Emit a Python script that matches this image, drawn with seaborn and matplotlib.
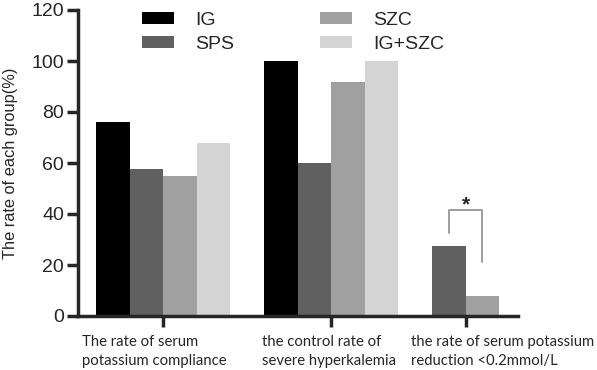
import numpy as np
import pandas as pd
import matplotlib
matplotlib.use("Agg")
import matplotlib.pyplot as plt
import matplotlib.transforms as mtransforms
from matplotlib.patches import Patch
import seaborn as sns

# data
groups = [
    "The rate of serum\npotassium compliance",
    "the control rate of\nsevere hyperkalemia",
    "the rate of serum potassium\nreduction <0.2mmol/L",
]
drugs = ["IG", "SPS", "SZC", "IG+SZC"]
compliance = [76.0, 57.6, 55.0, 68.0]
control = [100.0, 60.0, 91.7, 100.0]
reduction = [np.nan, 27.3, 8.0, np.nan]
colors = ["#000000", "#606060", "#a0a0a0", "#d4d4d4"]

sns.set_style("ticks")
plt.rcParams["font.family"] = ["Liberation Sans", "DejaVu Sans"]

# one slot per bar, one empty slot between groups
rows = []
centers = []
slot = 0
for grp, vals in zip(groups, [compliance, control, reduction]):
    slots = []
    for drug, v in zip(drugs, vals):
        if np.isnan(v):
            continue
        rows.append({"group": grp, "drug": drug, "slot": slot, "value": v})
        slots.append(slot)
        slot += 1
    centers.append(np.mean(slots))
    slot += 1
df = pd.DataFrame(rows)
palette = dict(zip(drugs, colors))

fig = plt.figure(figsize=(5.97, 3.70), dpi=100)
ax = fig.add_axes([78 / 597, 54 / 370, 440 / 597, 306 / 370])

sns.barplot(
    data=df, x="slot", y="value", hue="drug", hue_order=drugs, palette=palette,
    native_scale=True, dodge=False, width=1, saturation=1, linewidth=0,
    legend=False, ax=ax,
)

ax.set_ylim(0, 120)
ax.set_xlim(-1.04, slot - 1 + 0.06)
ax.set_yticks(range(0, 121, 20))
ax.set_ylabel("The rate of each group(%)", fontsize=11.8, labelpad=10)
ax.set_xlabel("")
ax.tick_params(axis="y", labelsize=14, width=2.5, length=8, pad=2)
ax.tick_params(axis="x", width=2.5, length=8, pad=6)
for side in ["left", "bottom"]:
    ax.spines[side].set_linewidth(2.5)
sns.despine(ax=ax)

ax.set_xticks(centers)
ax.set_xticklabels(groups, family=["Lato", "DejaVu Sans"], fontsize=10.7,
                   ha="left", multialignment="left", linespacing=1.38)
for lab, dx in zip(ax.get_xticklabels(), [-81, -69, -55]):
    lab.set_transform(lab.get_transform() +
                      mtransforms.ScaledTranslation(dx / 100, 0, fig.dpi_scale_trans))

# significance bracket between SPS and SZC in the last group
sps = df[(df.group == groups[2]) & (df.drug == "SPS")].iloc[0]
szc = df[(df.group == groups[2]) & (df.drug == "SZC")].iloc[0]
ax.plot([sps.slot, sps.slot, szc.slot, szc.slot], [32.5, 41.5, 41.5, 21],
        color="#8c8c8c", lw=1.2, clip_on=False)
ax.text((sps.slot + szc.slot) / 2, 40, "*", ha="center", va="bottom",
        fontsize=15, fontweight="bold")

handles = [Patch(facecolor=palette[d], edgecolor="none", label=d) for d in drugs]
ax.legend(handles=handles, ncol=2, loc="upper left", frameon=False,
          bbox_to_anchor=(142 / 597, 0.967), bbox_transform=fig.transFigure,
          fontsize=14, handlelength=1.65, handleheight=0.57, handletextpad=1.1,
          columnspacing=4.4, labelspacing=0.33, borderpad=0, borderaxespad=0)

fig.savefig("out.png", dpi=100)
